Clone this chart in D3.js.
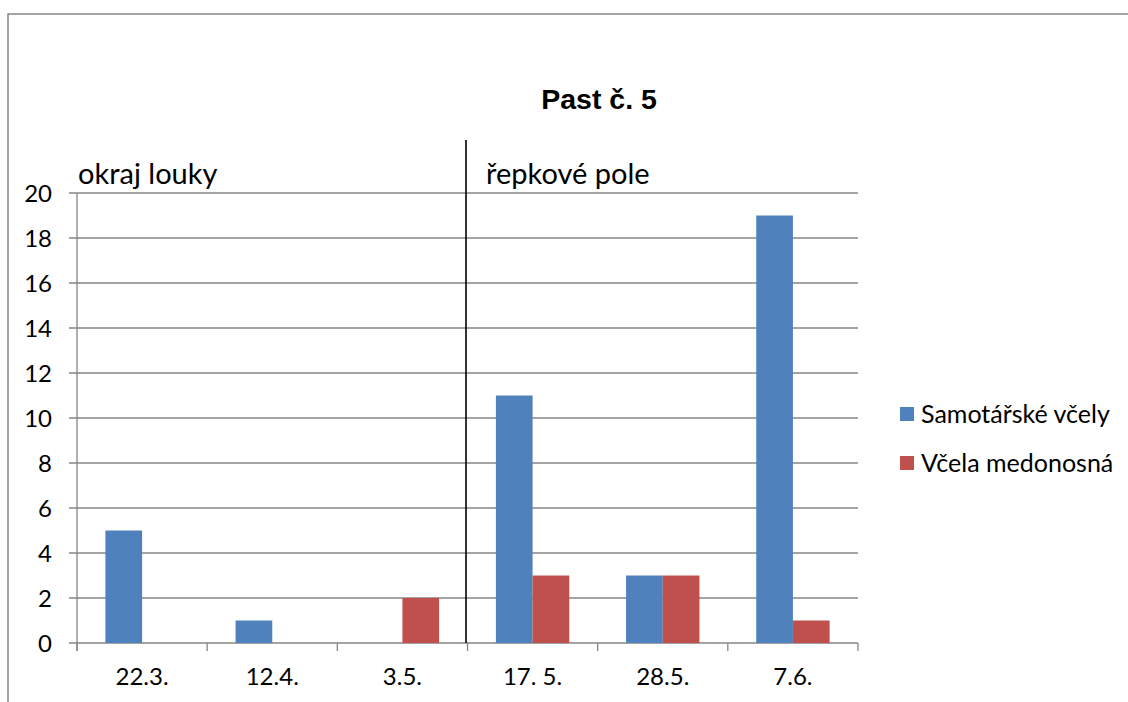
<!DOCTYPE html>
<html>
<head>
<meta charset="utf-8">
<script src="https://cdn.jsdelivr.net/npm/d3@7/dist/d3.min.js"></script>
<style>
  html, body { margin: 0; padding: 0; background: #fff; }
  svg { display: block; }
</style>
</head>
<body>
<svg id="chart" width="1128" height="702"></svg>
<script>
// Sampling dates (trap no. 5)
const categories = ["22.3.", "12.4.", "3.5.", "17. 5.", "28.5.", "7.6."];
const seriesNames = ["Samotářské včely", "Včela medonosná"];
const solitaryBees = [5, 1, 0, 11, 3, 19];
const honeyBee = [0, 0, 2, 3, 3, 1];
const yTicks = [0, 2, 4, 6, 8, 10, 12, 14, 16, 18, 20];
const zoneLabels = ["okraj louky", "řepkové pole"];
const titleText = "Past č. 5";

const colors = ["#4F81BD", "#C0504D"];
const gridColor = "#868686";
const font = "Lato, 'Open Sans', sans-serif";

const svg = d3.select("#chart");
const plot = { left: 77, right: 858, top: 193, bottom: 643 };

// outer chart frame
svg.append("rect")
  .attr("x", 8).attr("y", 14)
  .attr("width", 1200).attr("height", 800)
  .attr("fill", "none").attr("stroke", gridColor).attr("stroke-width", 1.5);

const x = d3.scaleBand().domain(categories).range([plot.left, plot.right]).padding(0);
const xSub = d3.scaleBand().domain(seriesNames).range([0, x.bandwidth()])
  .paddingInner(0).paddingOuter(0.774);
const y = d3.scaleLinear().domain([0, 20]).range([plot.bottom, plot.top]);

// horizontal gridlines
svg.append("g").selectAll("line").data(yTicks).join("line")
  .attr("x1", plot.left - 8).attr("x2", plot.right)
  .attr("y1", d => y(d)).attr("y2", d => y(d))
  .attr("stroke", gridColor).attr("stroke-width", 1.3);

// y axis line
svg.append("line")
  .attr("x1", plot.left).attr("x2", plot.left)
  .attr("y1", plot.top).attr("y2", plot.bottom + 8)
  .attr("stroke", gridColor).attr("stroke-width", 1.3);

// x axis tick marks at category boundaries
const boundaries = categories.map(c => x(c)).concat([plot.right]);
svg.append("g").selectAll("line").data(boundaries).join("line")
  .attr("x1", d => d).attr("x2", d => d)
  .attr("y1", plot.bottom).attr("y2", plot.bottom + 8)
  .attr("stroke", gridColor).attr("stroke-width", 1.3);

// y tick labels
svg.append("g").selectAll("text").data(yTicks).join("text")
  .attr("x", 52).attr("y", d => y(d))
  .attr("dy", "0.36em")
  .attr("text-anchor", "end")
  .attr("font-family", font).attr("font-size", 24)
  .attr("fill", "#000")
  .text(d => d);

// x tick labels
svg.append("g").selectAll("text").data(categories).join("text")
  .attr("x", d => x(d) + x.bandwidth() / 2).attr("y", 685)
  .attr("text-anchor", "middle")
  .attr("font-family", font).attr("font-size", 24)
  .attr("fill", "#000")
  .text(d => d);

// bars
const seriesData = [solitaryBees, honeyBee];
seriesData.forEach((vals, si) => {
  svg.append("g").selectAll("rect").data(vals.map((v, i) => ({ cat: categories[i], v })))
    .join("rect")
    .attr("x", d => x(d.cat) + xSub(seriesNames[si]))
    .attr("y", d => y(d.v))
    .attr("width", xSub.bandwidth())
    .attr("height", d => y(0) - y(d.v))
    .attr("fill", colors[si]);
});

// separator between the two habitats
const sepX = x(categories[3]) - 1.5;
svg.append("line")
  .attr("x1", sepX).attr("x2", sepX)
  .attr("y1", 140).attr("y2", plot.bottom)
  .attr("stroke", "#000").attr("stroke-width", 1.6);

// habitat labels
svg.append("text")
  .attr("x", 78).attr("y", 184)
  .attr("font-family", font).attr("font-size", 29)
  .text(zoneLabels[0]);
svg.append("text")
  .attr("x", 486).attr("y", 184)
  .attr("font-family", font).attr("font-size", 29)
  .text(zoneLabels[1]);

// title
svg.append("text")
  .attr("x", 599).attr("y", 109)
  .attr("text-anchor", "middle")
  .attr("font-family", "'Liberation Sans', Arial, sans-serif")
  .attr("font-weight", "bold").attr("font-size", 28.5)
  .text(titleText);

// legend
const legend = svg.append("g");
seriesNames.forEach((name, i) => {
  const ly = 414 + i * 49;
  legend.append("rect")
    .attr("x", 900).attr("y", ly - 7)
    .attr("width", 14).attr("height", 14)
    .attr("fill", colors[i]);
  legend.append("text")
    .attr("x", 921).attr("y", ly)
    .attr("dy", "0.36em")
    .attr("font-family", font).attr("font-size", 25)
    .text(name);
});
</script>
</body>
</html>
